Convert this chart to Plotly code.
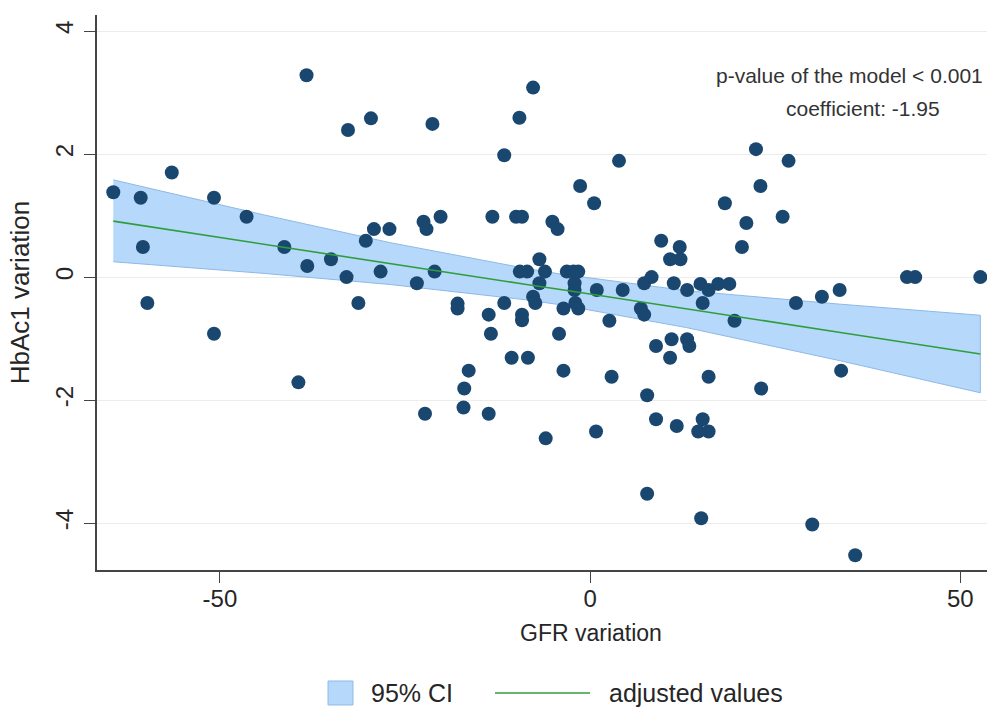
import plotly.graph_objects as go

# Scatter data: GFR variation (x) vs HbAc1 variation (y)
gfr = [-64.4, -60.7, -60.4, -59.8, -56.5, -50.8, -50.8, -46.4, -41.3, -39.4,
       -38.3, -38.2, -35.0, -32.9, -32.7, -31.3, -30.3, -29.6, -29.2, -28.3,
       -27.1, -23.4, -22.5, -22.3, -22.1, -21.3, -21.0, -20.2, -17.9, -17.9,
       -17.0, -17.1, -16.4, -13.7, -13.4, -13.7, -13.2, -11.6, -11.6, -10.6,
       -10.0, -9.55, -9.5, -9.2, -9.2, -9.2, -8.5, -8.4, -7.7, -7.7,
       -7.4, -6.85, -6.85, -6.1, -6.0, -5.1, -4.4, -4.2, -3.6, -3.6,
       -3.15, -2.25, -2.1, -2.1, -2.0, -1.6, -1.6, -1.35, 0.54, 0.8,
       0.9, 2.6, 2.9, 3.9, 4.4, 6.85, 7.3, 7.3, 7.7, 7.7,
       8.3, 8.9, 8.9, 9.6, 10.8, 10.8, 11.0, 11.3, 11.7, 12.1,
       12.2, 13.1, 13.1, 13.4, 14.9, 15.2, 15.2, 14.6, 16.0, 15.0,
       16.0, 16.0, 17.3, 18.2, 18.8, 19.5, 20.5, 21.1, 22.4, 23.0,
       23.1, 26.0, 26.8, 27.8, 30.0, 31.3, 33.7, 33.9, 35.8, 42.8,
       43.9, 52.7]
hba = [1.38, 1.29, 0.49, -0.42, 1.70, 1.29, -0.92, 0.98, 0.49, -1.71,
       3.28, 0.18, 0.29, 0.0, 2.39, -0.42, 0.59, 2.58, 0.78, 0.09,
       0.78, -0.10, 0.90, -2.22, 0.78, 2.49, 0.09, 0.98, -0.43, -0.51,
       -1.81, -2.12, -1.52, -0.61, -0.92, -2.22, 0.98, 1.98, -0.42, -1.31,
       0.98, 2.59, 0.09, 0.98, -0.61, -0.70, 0.09, -1.31, 3.08, -0.32,
       -0.42, 0.29, -0.10, 0.09, -2.62, 0.90, 0.78, -0.92, -0.51, -1.52,
       0.09, 0.09, -0.10, -0.21, -0.42, 0.09, -0.51, 1.48, 1.20, -2.51,
       -0.21, -0.71, -1.62, 1.89, -0.21, -0.51, -0.61, -0.10, -1.92, -3.52,
       0.0, -1.12, -2.31, 0.59, 0.29, -1.31, -1.01, -0.10, -2.42, 0.49,
       0.29, -0.21, -1.01, -1.12, -0.11, -0.42, -2.31, -2.51, -2.51, -3.92,
       -0.21, -1.62, -0.11, 1.20, -0.11, -0.71, 0.49, 0.88, 2.08, 1.48,
       -1.81, 0.98, 1.89, -0.42, -4.02, -0.32, -0.21, -1.52, -4.52, 0.0,
       0.0, 0.0]

# Fitted line and 95% CI band
fit_x = [-64.4, -44.0, -27.0, -8.6, -4.0, 13.0, 33.8, 52.7]
fit_y = [0.91, 0.53, 0.22, -0.12, -0.20, -0.52, -0.90, -1.25]
ci_upper = [1.58, 1.01, 0.56, 0.14, 0.05, -0.22, -0.44, -0.62]
ci_lower = [0.25, 0.06, -0.12, -0.37, -0.45, -0.82, -1.36, -1.88]

x_ticks = [-50, 0, 50]
x_tick_labels = ["-50", "0", "50"]
y_ticks = [-4, -2, 0, 2, 4]
y_tick_labels = ["-4", "-2", "0", "2", "4"]

legend_labels = ["95% CI", "adjusted values"]

FONT = "Liberation Sans, Arial, sans-serif"
BAND_FILL = "rgb(182,216,250)"
BAND_EDGE = "#8db9e6"
LINE_COL = "#2e9e3c"
DOT_COL = "#1a476f"
TEXT_COL = "#262626"

fig = go.Figure()

fig.add_trace(go.Scatter(
    x=fit_x + fit_x[::-1],
    y=ci_upper + ci_lower[::-1],
    fill="toself", fillcolor=BAND_FILL,
    line=dict(color=BAND_EDGE, width=1),
    mode="lines", name=legend_labels[0], hoverinfo="skip", showlegend=False,
))

fig.add_trace(go.Scatter(
    x=gfr, y=hba, mode="markers",
    marker=dict(color=DOT_COL, size=14, line=dict(width=0)),
    showlegend=False,
))

fig.add_trace(go.Scatter(
    x=fit_x, y=fit_y, mode="lines",
    line=dict(color=LINE_COL, width=1.6),
    name=legend_labels[1], showlegend=False,
))

fig.add_annotation(x=35.0, y=3.28, text="p-value of the model < 0.001",
                   showarrow=False, xanchor="center", yanchor="middle",
                   font=dict(size=21, color="#333333", family=FONT))
fig.add_annotation(x=36.9, y=2.74, text="coefficient: -1.95",
                   showarrow=False, xanchor="center", yanchor="middle",
                   font=dict(size=21, color="#333333", family=FONT))

# X axis title (centred as in the reference)
fig.add_annotation(xref="paper", yref="paper", x=0.555, y=-0.1135,
                   text="GFR variation", showarrow=False, xanchor="center",
                   yanchor="middle", font=dict(size=23, color=TEXT_COL, family=FONT))

# Legend drawn below the plot (paper coordinates)
fig.add_shape(type="rect", xref="paper", yref="paper",
              x0=0.2596, x1=0.2876, y0=-0.2, y1=-0.2432,
              fillcolor=BAND_FILL, line=dict(color=BAND_EDGE, width=1))
fig.add_annotation(xref="paper", yref="paper", x=0.3056, y=-0.2216,
                   text=legend_labels[0], showarrow=False, xanchor="left",
                   yanchor="middle", font=dict(size=25, color=TEXT_COL, family=FONT))
fig.add_shape(type="line", xref="paper", yref="paper",
              x0=0.4472, x1=0.5539, y0=-0.2216, y1=-0.2216,
              line=dict(color=LINE_COL, width=1.6))
fig.add_annotation(xref="paper", yref="paper", x=0.5730, y=-0.2216,
                   text=legend_labels[1], showarrow=False, xanchor="left",
                   yanchor="middle", font=dict(size=25, color=TEXT_COL, family=FONT))

fig.update_layout(
    width=987, height=708,
    margin=dict(l=97, r=0, t=15, b=138),
    paper_bgcolor="white", plot_bgcolor="white",
    font=dict(family=FONT, size=20, color=TEXT_COL),
    showlegend=False,
    xaxis=dict(
        range=[-66.6, 53.6], tickvals=x_ticks, ticktext=x_tick_labels,
        ticks="outside", ticklen=11, ticklabelstandoff=-5,
        tickcolor="#444", showline=True, linecolor="#444", linewidth=1.5,
        showgrid=False, zeroline=False, automargin=False,
        tickfont=dict(size=24),
    ),
    yaxis=dict(
        range=[-4.76, 4.26], tickvals=y_ticks, ticktext=y_tick_labels,
        ticks="outside", ticklen=11,
        tickcolor="#444", showline=True, linecolor="#444", linewidth=1.5,
        showgrid=True, gridcolor="#ececec", gridwidth=1, zeroline=False,
        tickangle=-90, automargin=False, ticklabelstandoff=2,
        title=dict(text="HbAc1 variation", standoff=14, font=dict(size=26)),
        tickfont=dict(size=24),
    ),
)

fig.write_html(
    "out.html",
    config={"displayModeBar": False},
    post_script="document.body.style.margin='0px';document.body.style.padding='0px';",
)
